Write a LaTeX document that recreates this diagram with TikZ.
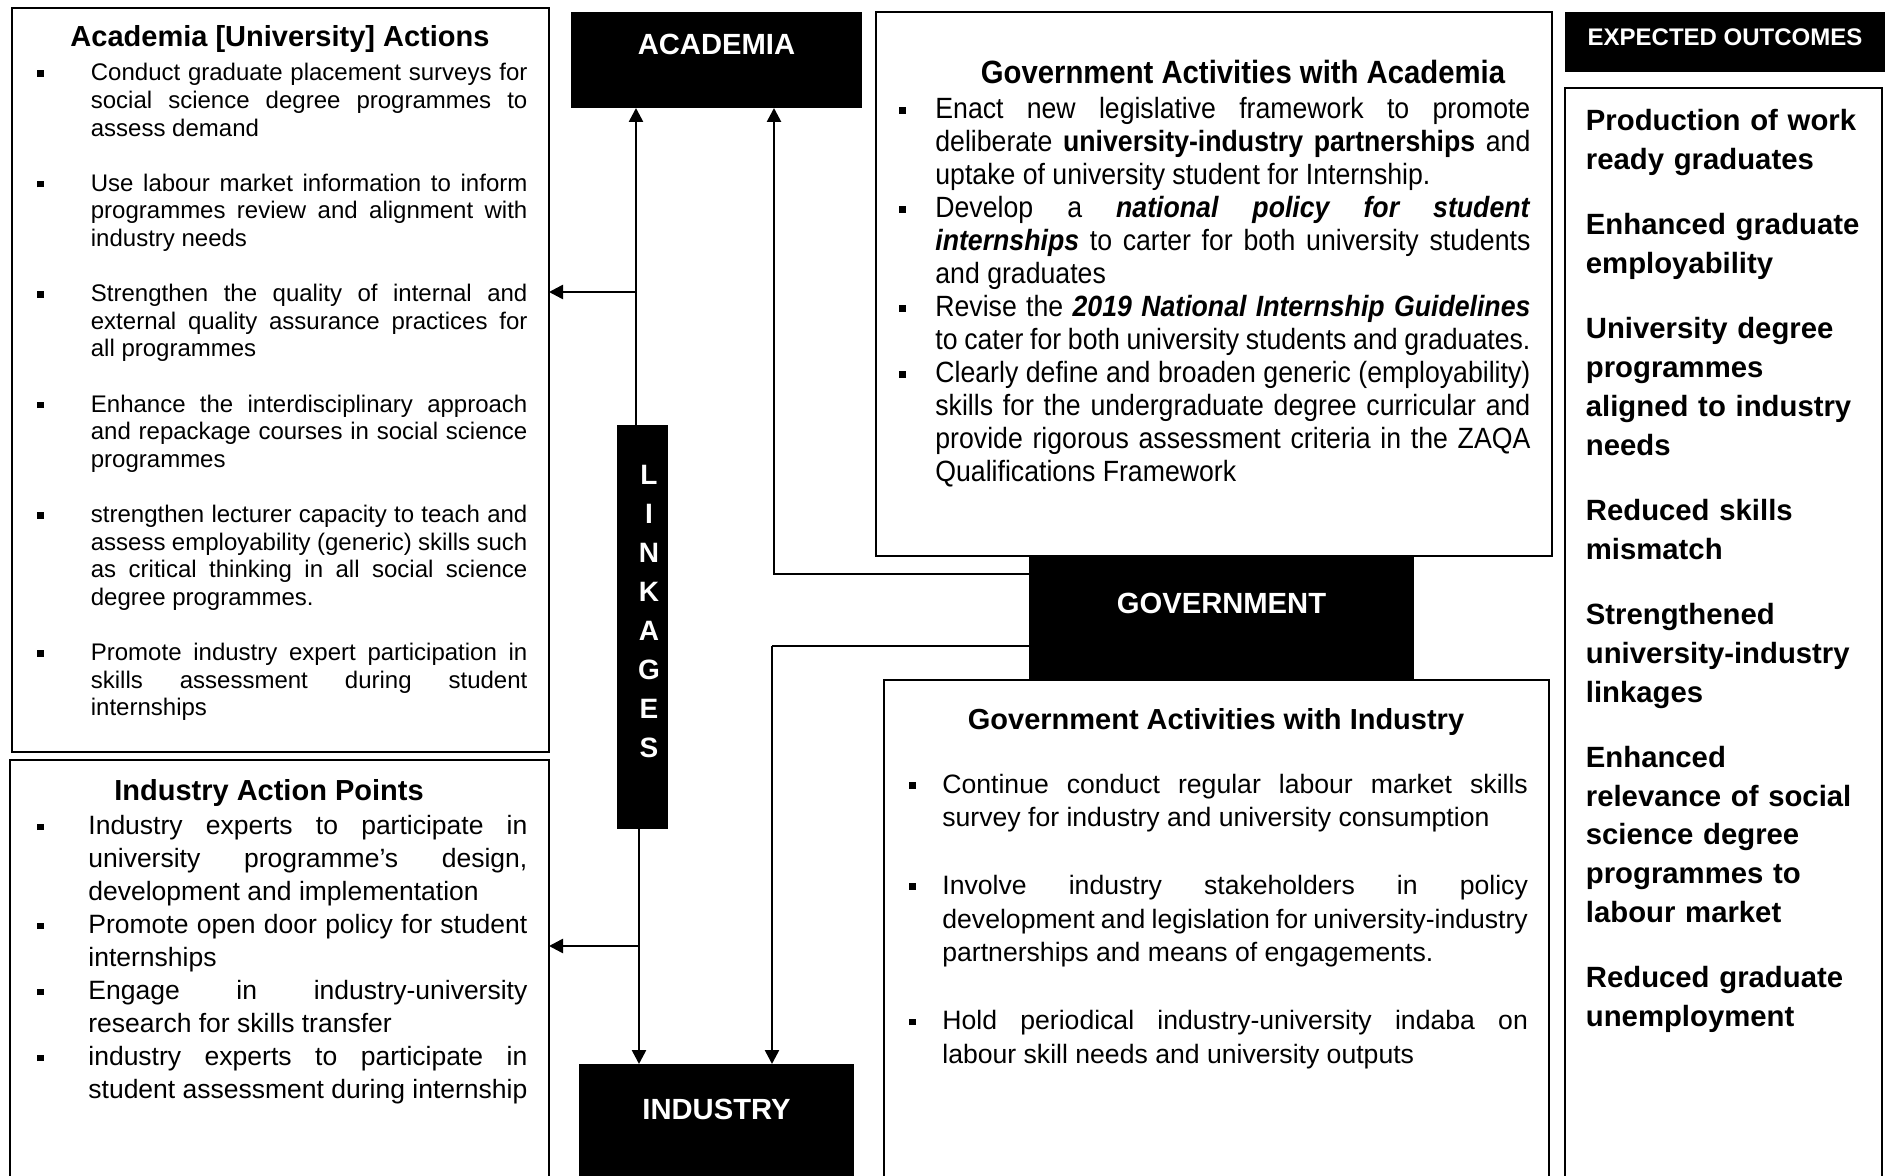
\documentclass[tikz,border=0pt]{standalone}
\usepackage{fontspec}
\setmainfont{Liberation Sans}
\newfontfamily\narrowsf[FakeStretch=0.91]{Liberation Sans}
\usetikzlibrary{arrows.meta}

\tolerance=10000
\hbadness=10000
\hyphenpenalty=10000
\exhyphenpenalty=10000

% small square bullet
\newcommand\sqbullet{\rule[0.32ex]{3.3pt}{3.3pt}}
% bulleted paragraph: #1 = hanging indent, #2 = text
\newcommand\bitem[2]{\par\noindent\hangindent=#1\hangafter=1\makebox[#1][l]{\sqbullet}\strut#2\par}
% one empty line between items
\newcommand\gap{\vspace{\baselineskip}}

\begin{document}
\begin{tikzpicture}[x=0.5pt,y=-0.5pt,
  frame/.style={draw=black,line width=1.1pt,fill=white,anchor=north west,inner sep=0pt,outer sep=0pt},
  blackbox/.style={fill=black,draw=none,anchor=north west,inner sep=0pt,outer sep=0pt},
  label/.style={text=white,font=\bfseries\fontsize{14.6}{17}\selectfont,anchor=base,inner sep=0pt},
  title/.style={font=\bfseries\fontsize{14.5}{17}\selectfont,anchor=base,inner sep=0pt},
  body/.style={anchor=north west,inner sep=0pt,align=justify},
  thinline/.style={line width=0.6pt},
  thickline/.style={line width=1.3pt},
  tip/.style={-{Triangle[length=7pt,width=7pt]}},
]
\clip (0,0) rectangle (1892,1176);
\fill[white] (0,0) rectangle (1892,1176);

% ---------- framed text boxes ----------
\node[frame,minimum width=268.5pt,minimum height=372pt] (boxA) at (12,8) {};
\node[frame,minimum width=269.5pt,minimum height=220pt] (boxI) at (10,760) {};
\node[frame,minimum width=338pt,minimum height=272pt] (boxGA) at (876,12) {};
\node[frame,minimum width=332.5pt,minimum height=260pt] (boxGI) at (884,680) {};
\node[frame,minimum width=158.5pt,minimum height=560pt] (boxO) at (1565,88) {};

% ---------- black blocks ----------
\node[blackbox,minimum width=145.5pt,minimum height=48pt] (acad) at (571,12) {};
\node[blackbox,minimum width=137.5pt,minimum height=70pt] (ind) at (579,1064) {};
\node[blackbox,minimum width=192.5pt,minimum height=62.5pt] (gov) at (1029,555) {};
\node[blackbox,minimum width=25.5pt,minimum height=202pt] (link) at (617,425) {};
\node[blackbox,minimum width=160pt,minimum height=30pt] (expo) at (1565,12) {};

\node[label] (acadlbl) at (716.5,55) {ACADEMIA};
\node[label] (indlbl) at (716.5,1119.5) {INDUSTRY};
\node[label] (govlbl) at (1221.5,613.5) {GOVERNMENT};
\node[label,font=\bfseries\fontsize{12}{14}\selectfont] (expolbl) at (1725,46) {EXPECTED OUTCOMES};
\node[label,anchor=center,align=center,font=\bfseries\fontsize{14}{19.55}\selectfont] (linklbl) at (649,611.5) {L\\I\\N\\K\\A\\G\\E\\S};

% ---------- connectors ----------
\coordinate (upL) at (636,243);
\coordinate (jA) at (636,292);
\coordinate (upR) at (774,261);
\coordinate (dR) at (772,646);
\coordinate (jI) at (639,946);

\draw[thinline] (link.north -| jA) -- (upL);
\draw[thickline,tip] (upL) -- (upL |- acad.south);
\draw[thickline,tip] (jA) -- (jA -| boxA.east);

\draw[thinline] (gov.west |- 0,574) -| (upR);
\draw[thickline,tip] (upR) -- (upR |- acad.south);

\draw[thinline] (gov.west |- dR) -- (dR);
\draw[thickline,tip] (dR) -- (dR |- ind.north);

\draw[thickline,tip] (link.south -| jI) -- (jI |- ind.north);
\draw[thickline,tip] (jI) -- (jI -| boxI.east);

% ---------- titles ----------
\node[title] (acadtitle) at (280,47) {Academia [University] Actions};
\node[title] (indtitle) at (269,800) {Industry Action Points};
\node[title,font=\narrowsf\bfseries\fontsize{16.1}{18}\selectfont] (gatitle) at (1243,84) {Government Activities with Academia};
\node[title] (gititle) at (1216,729) {Government Activities with Industry};

% ---------- academia actions ----------
\node[body,text width=245pt,font=\fontsize{12}{13.8}\selectfont] (acadlist) at (37,53) {%
\bitem{26.75pt}{Conduct graduate placement surveys for\linebreak social science degree programmes to\linebreak assess demand}\gap
\bitem{26.75pt}{Use labour market information to inform\linebreak programmes review and alignment with\linebreak industry needs}\gap
\bitem{26.75pt}{Strengthen the quality of internal and\linebreak external quality assurance practices for\linebreak all programmes}\gap
\bitem{26.75pt}{Enhance the interdisciplinary approach\linebreak and repackage courses in social science\linebreak programmes}\gap
\bitem{26.75pt}{strengthen lecturer capacity to teach and\linebreak assess employability (generic) skills such\linebreak as critical thinking in all social science\linebreak degree programmes.}\gap
\bitem{26.75pt}{Promote industry expert participation in\linebreak skills assessment during student\linebreak internships}};

% ---------- industry action points ----------
\node[body,text width=245pt,font=\fontsize{13.25}{16.5}\selectfont] (indlist) at (37,801.2) {%
\bitem{25.5pt}{Industry experts to participate in\linebreak university programme’s design,\linebreak development and implementation}
\bitem{25.5pt}{Promote open door policy for student\linebreak internships}
\bitem{25.5pt}{Engage in industry-university\linebreak research for skills transfer}
\bitem{25.5pt}{industry experts to participate in\linebreak student assessment during internship}};

% ---------- government activities with academia ----------
\node[body,text width=315.5pt,font=\narrowsf\fontsize{14.65}{16.5}\selectfont] (galist) at (899,85.4) {%
\bitem{18pt}{Enact new legislative framework to promote\linebreak deliberate \textbf{university-industry partnerships} and\linebreak uptake of university student for Internship.}
\bitem{18pt}{Develop a \textbf{\textit{national policy for student}}\linebreak \textbf{\textit{internships}} to carter for both university students\linebreak and graduates}
\bitem{18pt}{Revise the \textbf{\textit{2019 National Internship Guidelines}}\linebreak to cater for both university students and graduates.}
\bitem{18pt}{Clearly define and broaden generic (employability)\linebreak skills for the undergraduate degree curricular and\linebreak provide rigorous assessment criteria in the ZAQA\linebreak Qualifications Framework}};

% ---------- government activities with industry ----------
\node[body,text width=309.25pt,font=\fontsize{13.3}{16.9}\selectfont] (gilist) at (909,758.8) {%
\bitem{16.5pt}{Continue conduct regular labour market skills\linebreak survey for industry and university consumption}\gap
\bitem{16.5pt}{Involve industry stakeholders in policy\linebreak development and legislation for university-industry\linebreak partnerships and means of engagements.}\gap
\bitem{16.5pt}{Hold periodical industry-university indaba on\linebreak labour skill needs and university outputs}};

% ---------- expected outcomes ----------
\node[anchor=north west,inner sep=0pt,text width=150pt,align=left,font=\bfseries\fontsize{14.65}{19.45}\selectfont] (outlist) at (1585.5,102.8) {%
\strut Production of work\\ ready graduates\\[13.1pt]
Enhanced graduate\\ employability\\[13.1pt]
University degree\\ programmes\\ aligned to industry\\ needs\\[13.1pt]
Reduced skills\\ mismatch\\[13.1pt]
Strengthened\\ university-industry\\ linkages\\[13.1pt]
Enhanced\\ relevance of social\\ science degree\\ programmes to\\ labour market\\[13.1pt]
Reduced graduate\\ unemployment};
\end{tikzpicture}
\end{document}
